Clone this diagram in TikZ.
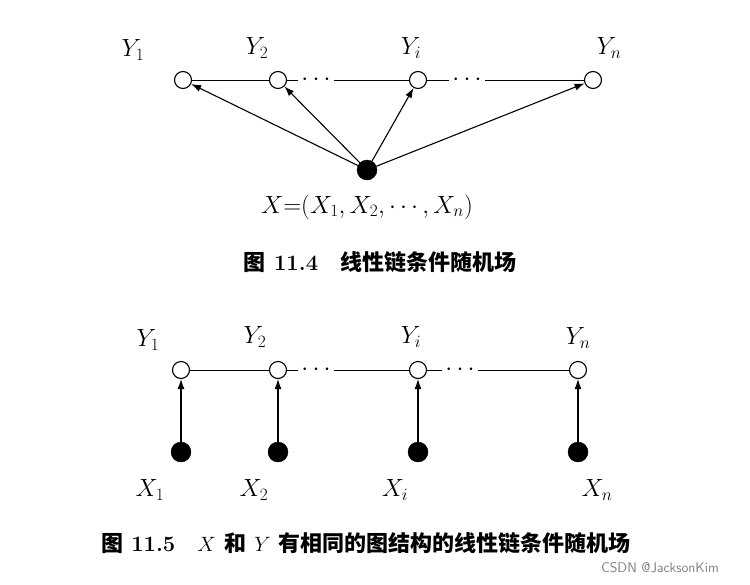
\documentclass[tikz,border=0pt]{standalone}
\usepackage{fontspec}
\newfontfamily\cjk{Noto Sans CJK SC}
\usetikzlibrary{arrows.meta}
\begin{document}
\begin{tikzpicture}[x=1pt,y=-1pt,
  wn/.style={circle,draw,line width=1.1pt,fill=white,minimum size=17pt,inner sep=0pt},
  bn/.style={circle,draw,fill=black,minimum size=20pt,inner sep=0pt},
  lab/.style={font=\fontsize{24}{26}\selectfont},
  captn/.style={font=\fontsize{22}{24}\selectfont\bfseries},
  arr/.style={-{Latex[length=10pt,width=7pt]},line width=1.1pt},
  ln/.style={line width=1pt}]
\useasboundingbox (0,0) rectangle (750,584);
% top
\node[wn] (a1) at (183,80) {};
\node[wn] (a2) at (278,80) {};
\node[wn] (ai) at (418,80) {};
\node[wn] (an) at (593,80) {};
\node[lab] (da1) at (316,80) {$\cdots$};
\node[lab] (da2) at (467,80) {$\cdots$};
\node[bn] (ax) at (367,170) {};
\draw[ln] (a1)--(a2) (a2)--(da1) (da1)--(ai) (ai)--(da2) (da2)--(an);
\foreach \t in {a1,a2,ai,an} \draw[arr] (ax)--(\t);
\node[lab] (la1) at (133,50) {$Y_1$};
\node[lab] (la2) at (257,48) {$Y_2$};
\node[lab] (lai) at (411,48) {$Y_i$};
\node[lab] (lan) at (609,48) {$Y_n$};
\node[lab] (lax) at (367,207) {$X{=}(X_1,X_2,\cdots,X_n)$};
\node[captn] (c1) at (380,262) {{\cjk 图} 11.4\quad{\cjk 线性链条件随机场}};
% bottom
\node[wn] (b1) at (181,370) {};
\node[wn] (b2) at (278,370) {};
\node[wn] (bi) at (418,370) {};
\node[wn] (bnn) at (578,370) {};
\node[lab] (db1) at (316,370) {$\cdots$};
\node[lab] (db2) at (460,370) {$\cdots$};
\draw[ln] (b1)--(b2) (b2)--(db1) (db1)--(bi) (bi)--(db2) (db2)--(bnn);
\node[bn] (x1) at (181,452) {};
\node[bn] (x2) at (278,452) {};
\node[bn] (xi) at (418,452) {};
\node[bn] (xn) at (578,452) {};
\draw[arr] (x1)--(b1);
\draw[arr] (x2)--(b2);
\draw[arr] (xi)--(bi);
\draw[arr] (xn)--(bnn);
\node[lab] (lb1) at (148,340) {$Y_1$};
\node[lab] (lb2) at (255,337) {$Y_2$};
\node[lab] (lbi) at (411,337) {$Y_i$};
\node[lab] (lbn) at (578,338) {$Y_n$};
\node[lab] (lx1) at (150,490) {$X_1$};
\node[lab] (lx2) at (254,490) {$X_2$};
\node[lab] (lxi) at (395,490) {$X_i$};
\node[lab] (lxn) at (597,490) {$X_n$};
\node[captn] (c2) at (366,543) {{\cjk 图} 11.5\quad$X$ {\cjk 和} $Y$ {\cjk 有相同的图结构的线性链条件随机场}};
\node[font=\fontsize{14}{15}\selectfont\sffamily,text=gray] (wm) at (660,568) {CSDN @JacksonKim};
\end{tikzpicture}
\end{document}
